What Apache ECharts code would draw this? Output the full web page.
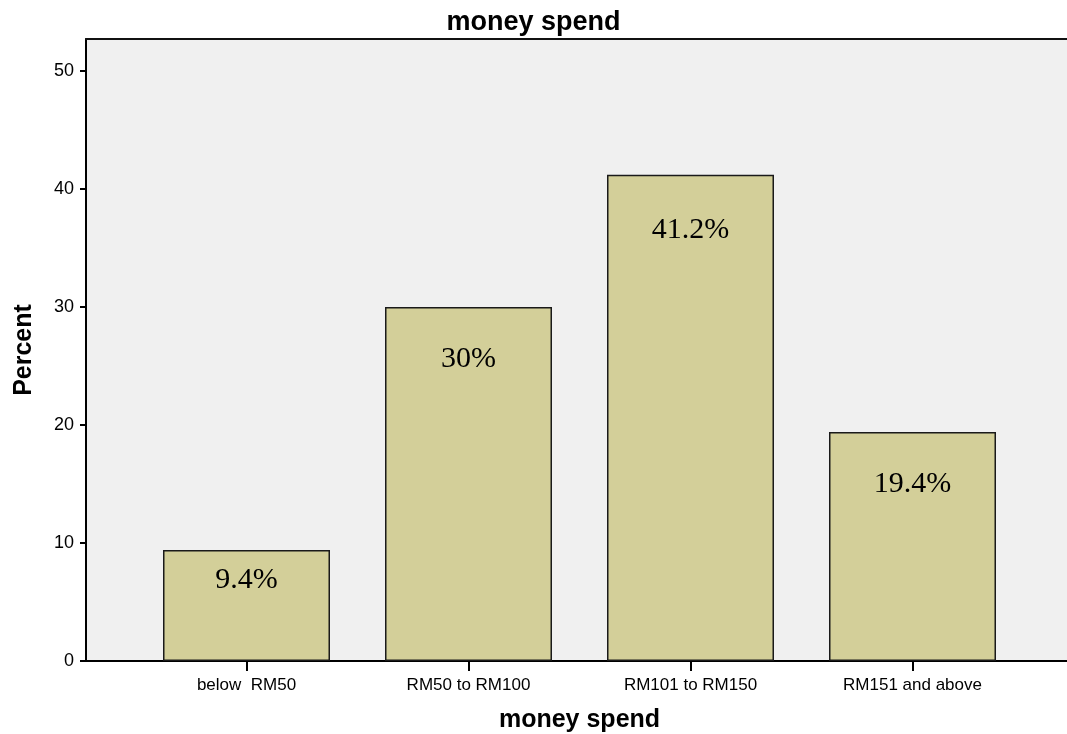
<!DOCTYPE html>
<html>
<head>
<meta charset="utf-8">
<style>
  html, body { margin: 0; padding: 0; background: #fff; }
  #chart { width: 1067px; height: 734px; }
</style>
<script src="https://cdn.jsdelivr.net/npm/echarts@6/dist/echarts.min.js"></script>
</head>
<body>
<div id="chart"></div>
<script>
// Share of respondents by monthly spending bracket
const categories = ['below  RM50', 'RM50 to RM100', 'RM101 to RM150', 'RM151 and above'];
const percents = [9.4, 30, 41.2, 19.4];
const valueLabels = ['9.4%', '30%', '41.2%', '19.4%'];
const labelDistances = [15, 37, 40, 37];
const yTicks = [0, 10, 20, 30, 40, 50];

const Y_MAX = 52.7;
const sans = '"Liberation Sans", Arial, sans-serif';
const serif = '"Liberation Serif", "Times New Roman", serif';

const chart = echarts.init(document.getElementById('chart'), null, { renderer: 'canvas' });

chart.setOption({
  animation: false,
  backgroundColor: '#ffffff',
  title: {
    text: 'money spend',
    left: 'center',
    top: 4,
    textStyle: { fontFamily: sans, fontSize: 27, fontWeight: 'bold', color: '#000' }
  },
  grid: [
    // category band for the bars
    { left: 135.5, right: 43.5, top: 39, bottom: 73, outerBoundsMode: 'none' },
    // shaded plot frame with the value scale
    { left: 86, right: 0, top: 39, bottom: 73, outerBoundsMode: 'none',
      show: true, backgroundColor: '#f0f0f0', borderWidth: 0 }
  ],
  xAxis: [
    {
      type: 'category',
      gridIndex: 0,
      data: categories,
      name: 'money spend',
      nameLocation: 'middle',
      nameGap: 47,
      nameTextStyle: { fontFamily: sans, fontSize: 25, fontWeight: 'bold', color: '#000' },
      axisLine: { show: false },
      axisTick: { show: true, alignWithLabel: true, length: 10, lineStyle: { color: '#000', width: 2 } },
      axisLabel: { fontFamily: sans, fontSize: 17, color: '#000', margin: 16 },
      splitLine: { show: false }
    },
    {
      type: 'value',
      gridIndex: 1,
      min: 0, max: 1,
      axisLine: { show: true, onZero: false, lineStyle: { color: '#000', width: 2 } },
      axisTick: { show: false },
      axisLabel: { show: false },
      splitLine: { show: false }
    },
    {
      type: 'value',
      gridIndex: 1,
      position: 'top',
      min: 0, max: 1,
      axisLine: { show: true, onZero: false, lineStyle: { color: '#111', width: 2 } },
      axisTick: { show: false },
      axisLabel: { show: false },
      splitLine: { show: false }
    }
  ],
  yAxis: [
    {
      type: 'value',
      gridIndex: 0,
      min: 0, max: Y_MAX,
      show: false
    },
    {
      type: 'value',
      gridIndex: 1,
      min: 0, max: Y_MAX,
      name: 'Percent',
      nameLocation: 'middle',
      nameGap: 49,
      nameTextStyle: { fontFamily: sans, fontSize: 25, fontWeight: 'bold', color: '#000' },
      axisLine: { show: true, onZero: false, lineStyle: { color: '#000', width: 2 } },
      axisTick: { show: true, length: 6, customValues: yTicks, lineStyle: { color: '#000', width: 2 } },
      axisLabel: { fontFamily: sans, fontSize: 18, color: '#000', margin: 12, customValues: yTicks },
      splitLine: { show: false }
    }
  ],
  series: [
    {
      type: 'bar',
      xAxisIndex: 0,
      yAxisIndex: 0,
      barWidth: 167,
      data: percents.map((v, i) => ({
        value: v,
        label: { distance: labelDistances[i] }
      })),
      itemStyle: { color: '#d3cf99', borderColor: '#1a1a1a', borderWidth: 1.5 },
      label: {
        show: true,
        position: 'insideTop',
        formatter: p => valueLabels[p.dataIndex],
        fontFamily: serif,
        fontSize: 30,
        color: '#000'
      },
      z: 3
    }
  ]
});
</script>
</body>
</html>
